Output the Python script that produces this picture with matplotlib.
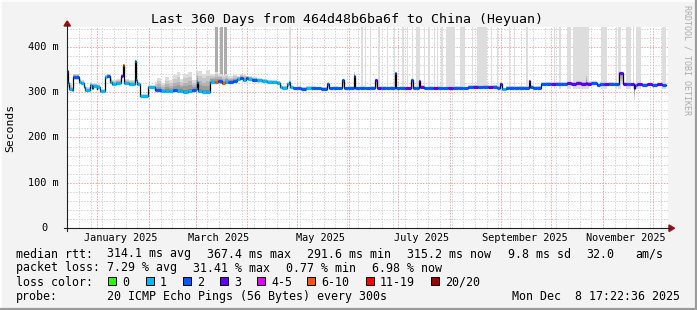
import matplotlib
matplotlib.use("Agg")
import matplotlib.pyplot as plt
import numpy as np
from datetime import datetime, timedelta
from matplotlib.patches import Rectangle, Polygon
from matplotlib.lines import Line2D
from matplotlib.transforms import ScaledTranslation

W, H = 697, 310
plt.rcParams['font.family'] = ['DejaVu Sans Mono']

start = datetime(2024, 12, 13, 17, 22, 36)
span_days = 360

# median rtt as steps: day from start, median ms, loss class, smoke top / bottom ms
seg_day = [0.0, 0.8, 1.3, 2.8, 3.8, 7.4, 8.5, 10.2, 11.0, 13.8,
           15.0, 15.8, 17.8, 18.3, 19.9, 22.9, 24.0, 25.9, 27.0, 29.5,
           32.4, 33.4, 34.5, 37.0, 40.6, 41.3, 42.3, 43.9, 48.9, 53.0,
           54.0, 56.5, 59.0, 61.5, 64.0, 66.0, 68.0, 70.0, 72.5, 75.0,
           77.5, 78.1, 79.0, 81.0, 83.5, 85.7, 89.0, 91.0, 93.0, 95.0,
           97.0, 100.0, 102.0, 104.0, 106.0, 107.5, 109.0, 111.0, 114.0, 117.0,
           120.0, 123.0, 126.2, 128.2, 129.5, 132.2, 133.5, 134.2, 136.0, 138.5,
           141.0, 144.0, 147.0, 150.0, 153.0, 156.3, 157.4, 160.0, 163.0, 165.4,
           166.8, 169.0, 172.4, 173.0, 176.0, 179.0, 182.0, 185.4, 186.4, 189.0,
           192.0, 194.0, 197.1, 197.7, 200.0, 203.0, 207.1, 207.8, 210.0, 211.5,
           212.5, 214.5, 217.0, 220.0, 223.0, 226.0, 229.0, 232.0, 235.0, 238.0,
           241.0, 244.0, 247.0, 250.0, 253.0, 256.0, 258.5, 260.3, 261.7, 263.7,
           266.0, 269.0, 272.0, 275.0, 277.7, 278.7, 280.0, 282.5, 284.8, 288.0,
           291.0, 294.0, 297.0, 300.8, 303.0, 306.0, 309.0, 311.9, 312.6, 315.0,
           318.6, 320.7, 323.0, 326.0, 329.0, 331.7, 334.4, 336.5, 338.5, 340.8,
           341.6, 343.0, 346.0, 349.0, 352.0, 355.0, 357.5]
seg_med = [346, 320, 307, 305, 334, 323, 320, 312, 305, 316,
           310, 314, 306, 312, 302, 334, 336, 322, 318, 320,
           336, 360, 320, 318, 370, 327, 318, 292, 311, 305,
           304, 302, 303, 302, 304, 302, 303, 301, 303, 304,
           306, 323, 302, 301, 300, 323, 322, 325, 320, 323,
           322, 325, 329, 331, 328, 332, 329, 327, 326, 325,
           323, 322, 320, 312, 310, 318, 323, 312, 309, 310,
           308, 309, 310, 309, 308, 319, 309, 310, 309, 326,
           309, 310, 336, 309, 310, 309, 310, 327, 309, 310,
           309, 310, 342, 309, 310, 309, 327, 310, 309, 325,
           311, 309, 310, 309, 310, 309, 310, 309, 310, 309,
           311, 312, 311, 312, 311, 312, 310, 318, 306, 309,
           310, 309, 310, 309, 325, 311, 309, 310, 318, 319,
           318, 319, 318, 320, 319, 320, 319, 320, 319, 320,
           316, 318, 317, 318, 317, 342, 319, 318, 317, 309,
           316, 317, 316, 317, 316, 317, 316]
seg_loss = [2, 1, 1, 1, 2, 1, 1, 1, 1, 1,
            2, 1, 1, 1, 1, 1, 2, 1, 1, 1,
            3, 5, 1, 1, 1, 1, 1, 1, 1, 2,
            2, 1, 1, 1, 2, 1, 1, 1, 1, 2,
            1, 1, 1, 1, 1, 1, 5, 2, 5, 1,
            2, 2, 1, 2, 1, 2, 1, 2, 1, 1,
            1, 1, 1, 1, 1, 1, 1, 1, 2, 2,
            2, 1, 2, 2, 2, 2, 2, 2, 2, 2,
            2, 2, 2, 2, 2, 2, 2, 3, 3, 2,
            2, 2, 2, 2, 2, 3, 2, 2, 2, 3,
            3, 2, 2, 3, 2, 2, 3, 2, 2, 2,
            2, 3, 2, 2, 3, 2, 2, 3, 1, 2,
            2, 2, 2, 2, 3, 2, 2, 2, 2, 2,
            3, 2, 2, 3, 3, 3, 3, 3, 3, 2,
            2, 2, 3, 2, 2, 3, 3, 2, 3, 3,
            2, 3, 2, 3, 2, 3, 2]
seg_hi = [367, 340, 318, 312, 341, 330, 327, 318, 311, 322,
          317, 320, 312, 318, 307, 339, 341, 331, 328, 330,
          341, 363, 329, 327, 372, 333, 323, 295, 315, 322,
          331, 320, 333, 327, 338, 345, 330, 340, 345, 326,
          349, 349, 346, 340, 349, 340, 345, 340, 338, 340,
          335, 338, 336, 340, 338, 336, 336, 334, 331, 330,
          328, 327, 325, 316, 314, 322, 326, 315, 312, 313,
          312, 313, 313, 312, 312, 322, 312, 313, 312, 329,
          312, 313, 345, 312, 313, 312, 313, 330, 312, 313,
          312, 313, 344, 312, 313, 312, 330, 313, 312, 328,
          316, 312, 313, 312, 313, 312, 313, 313, 313, 312,
          315, 316, 315, 316, 315, 316, 314, 322, 310, 313,
          314, 313, 314, 313, 328, 315, 313, 314, 322, 323,
          322, 323, 322, 324, 323, 325, 324, 342, 324, 324,
          320, 322, 321, 322, 321, 345, 322, 322, 321, 312,
          320, 321, 320, 321, 320, 321, 320]
seg_lo = [318, 312, 303, 301, 328, 318, 315, 308, 301, 311,
          306, 309, 302, 307, 298, 329, 331, 318, 314, 316,
          330, 352, 316, 314, 362, 322, 314, 290, 308, 302,
          300, 299, 300, 299, 300, 299, 300, 298, 300, 301,
          302, 305, 299, 298, 297, 318, 317, 320, 316, 318,
          318, 320, 324, 326, 323, 327, 324, 322, 321, 321,
          319, 318, 316, 308, 306, 312, 316, 308, 306, 306,
          305, 306, 306, 305, 305, 309, 306, 306, 305, 310,
          306, 306, 310, 306, 306, 305, 306, 310, 306, 306,
          305, 306, 310, 306, 306, 305, 310, 306, 306, 310,
          306, 305, 306, 305, 306, 305, 306, 305, 306, 305,
          307, 308, 307, 308, 307, 308, 306, 310, 303, 305,
          306, 305, 306, 305, 310, 307, 305, 306, 314, 315,
          314, 315, 314, 316, 315, 316, 315, 316, 315, 316,
          312, 314, 313, 314, 313, 318, 315, 314, 313, 283,
          312, 313, 312, 313, 312, 313, 312]

# periods where the slowest pings ran off the top of the graph
bar_from = [133.7, 176.8, 179.4, 182.4, 187.1, 192.5, 196.5, 201.5, 204.5, 207.5,
            210.1, 214.5, 217.2, 220.5, 222.6, 224.6, 228.2, 236.2, 243.6, 246.7,
            254.7, 258.7, 265.7, 268.5, 276.3, 292.6, 295.8, 300.4, 304.5, 321.0,
            329.9, 331.3, 335.9, 340.2, 342.0, 358.0]
bar_to = [134.4, 178.0, 180.0, 183.0, 188.4, 193.1, 197.1, 202.9, 205.1, 208.1,
          212.5, 215.1, 218.5, 221.1, 223.2, 225.8, 233.6, 239.6, 244.2, 252.7,
          255.3, 259.3, 266.3, 269.1, 277.1, 293.2, 297.2, 302.8, 313.8, 324.5,
          330.9, 333.4, 338.9, 341.0, 344.9, 360.0]
dark_from = [89.1, 92.1, 94.5]
dark_to = [91.1, 93.7, 96.1]

loss_labels = ['0', '1', '2', '3', '4-5', '6-10', '11-19', '20/20']
loss_colors = ['#26ff00', '#00b8ff', '#0059ff', '#5e00ff', '#dd00ff', '#ff5500', '#ff0000', '#a10000']

rtt_stats = ['314.1 ms avg', '367.4 ms max', '291.6 ms min', '315.2 ms now', '9.8 ms sd', '32.0', 'am/s']
loss_stats = ['7.29 % avg', '31.41 % max', '0.77 % min', '6.98 % now']

y_ticks = [0, 100, 200, 300, 400]
y_labels = ['0', '100 m', '200 m', '300 m', '400 m']
x_label_months = [(2025, 1), (2025, 3), (2025, 5), (2025, 7), (2025, 9), (2025, 11)]


def dayof(d):
    return (d - start).total_seconds() / 86400.0


fig = plt.figure(figsize=(W / 100, H / 100), dpi=100, facecolor='#f3f3f3')
ax = fig.add_axes([67 / W, 1 - 228 / H, (668 - 67) / W, (228 - 27) / H])
ax.set_facecolor('white')
ymax = 444
ax.set_xlim(0, 361.4)
ax.set_ylim(0, ymax)
for s in ax.spines.values():
    s.set_visible(False)
ax.set_xticks([])
ax.set_yticks([])

# grid, dotted like rrdtool
dot = (0, (1.4, 1.4))
minor_col = '#d2d2d2'
major_col = '#f5a3a3'
for v in range(20, ymax, 20):
    if v % 100:
        ax.axhline(v, color=minor_col, lw=0.72, ls=dot, zorder=0)
d = datetime(2024, 12, 14)
while d < start + timedelta(days=span_days + 2):
    ax.axvline(dayof(d), color=minor_col, lw=0.72, ls=dot, zorder=0)
    d += timedelta(days=7)
for v in y_ticks[1:]:
    ax.axhline(v, color=major_col, lw=0.72, ls=dot, zorder=0.5)
for m in range(1, 13):
    ax.axvline(dayof(datetime(2025, m, 1)), color=major_col, lw=0.72, ls=dot, zorder=0.5)

# tall smoke bars
ax.bar(bar_from, ymax + 10 - 306, width=np.subtract(bar_to, bar_from), bottom=306,
       align='edge', color='#dddddd', lw=0, zorder=1.5)
ax.bar(dark_from, ymax + 10 - 318, width=np.subtract(dark_to, dark_from), bottom=318,
       align='edge', color='#acacac', lw=0, zorder=1.6)

# smoke
xe = np.array(seg_day + [span_days])
med = np.array(seg_med + [seg_med[-1]], dtype=float)
hi = np.array(seg_hi + [seg_hi[-1]], dtype=float)
lo = np.array(seg_lo + [seg_lo[-1]], dtype=float)
for frac, col in [(1.0, '#dcdcdc'), (0.75, '#c8c8c8'), (0.5, '#b2b2b2'),
                  (0.3, '#9c9c9c'), (0.12, '#858585')]:
    ax.fill_between(xe, med - frac * (med - lo), med + frac * (hi - med),
                    step='post', color=col, lw=0, zorder=2)

# median line coloured by loss
ax.step(xe, med, where='post', color='black', lw=0.9, zorder=4)
ax.hlines(seg_med, seg_day, seg_day[1:] + [span_days],
          colors=[loss_colors[k] for k in seg_loss], lw=2.3, zorder=5, capstyle='butt')

# axis labels
for v, lab in zip(y_ticks, y_labels):
    off = -8 if v else -20
    ax.text(0, v, lab, ha='right', va='center', fontsize=7.4,
            transform=ax.get_yaxis_transform() + ScaledTranslation(off / 100, 0, fig.dpi_scale_trans))
for y, m in x_label_months:
    ax.text(dayof(datetime(y, m, 15)), 0, datetime(y, m, 1).strftime('%B %Y'),
            ha='center', va='baseline', fontsize=7.4,
            transform=ax.get_xaxis_transform() + ScaledTranslation(0, -13 / 100, fig.dpi_scale_trans))


def fx(x):
    return x / W


def fy(y):
    return 1 - y / H


# axes lines and arrows
fig.add_artist(Line2D([fx(67), fx(67)], [fy(231), fy(24)], color='#222222', lw=0.8))
fig.add_artist(Line2D([fx(64), fx(670)], [fy(228), fy(228)], color='#222222', lw=0.8))
fig.add_artist(Polygon([(fx(64), fy(26)), (fx(70.5), fy(26)), (fx(67.2), fy(21))],
                       closed=True, color='#9a1010', transform=fig.transFigure))
fig.add_artist(Polygon([(fx(669), fy(225)), (fx(669), fy(231.5)), (fx(674.5), fy(228.2))],
                       closed=True, color='#9a1010', transform=fig.transFigure))

# frame
fig.add_artist(Line2D([0, 1], [fy(0.5), fy(0.5)], color='white', lw=1.2))
fig.add_artist(Line2D([fx(0.5), fx(0.5)], [0, 1], color='white', lw=1.2))
fig.add_artist(Line2D([0, 1], [fy(309), fy(309)], color='#9c9c9c', lw=1.6))
fig.add_artist(Line2D([fx(696), fx(696)], [0, 1], color='#9c9c9c', lw=1.6))

# texts
fig.text(fx(347), fy(23.3), 'Last 360 Days from 464d48b6ba6f to China (Heyuan)',
         ha='center', va='baseline', fontsize=9.5)
fig.text(fx(10), fy(128), 'Seconds', rotation=90, ha='center', va='center', fontsize=8.2)
fig.text(fx(687), fy(60), 'RRDTOOL / TOBI OETIKER', rotation=270, ha='center', va='center',
         fontsize=6.0, color='#ababab')

fs = 8.4
rows = [257.5, 271.5, 285.5, 300]
fig.text(fx(16), fy(rows[0]), 'median rtt:', fontsize=fs, va='baseline')
for x, s in zip([107, 207, 307, 407.5, 507.5, 586, 635.5], rtt_stats):
    fig.text(fx(x), fy(rows[0]), s, fontsize=fs, va='baseline')
fig.text(fx(16), fy(rows[1]), 'packet loss:', fontsize=fs, va='baseline')
for x, s in zip([107, 193, 286, 372], loss_stats):
    fig.text(fx(x), fy(rows[1]), s, fontsize=fs, va='baseline')
fig.text(fx(16), fy(rows[2]), 'loss color:', fontsize=fs, va='baseline')
for bx, lab, col in zip([108, 146, 183, 220, 257, 307, 366, 431], loss_labels, loss_colors):
    fig.add_artist(Rectangle((fx(bx), fy(285)), 8 / W, 8 / H, transform=fig.transFigure,
                             facecolor=col, edgecolor='black', lw=0.7))
    fig.text(fx(bx + 14), fy(rows[2]), lab, fontsize=fs, va='baseline')
fig.text(fx(16), fy(rows[3]), 'probe:', fontsize=fs, va='baseline')
fig.text(fx(107), fy(rows[3]), '20 ICMP Echo Pings (56 Bytes) every 300s', fontsize=fs, va='baseline')
fig.text(fx(680), fy(rows[3]), 'Mon Dec  8 17:22:36 2025', fontsize=fs, va='baseline', ha='right')

fig.savefig('out.png', dpi=100, facecolor=fig.get_facecolor())
